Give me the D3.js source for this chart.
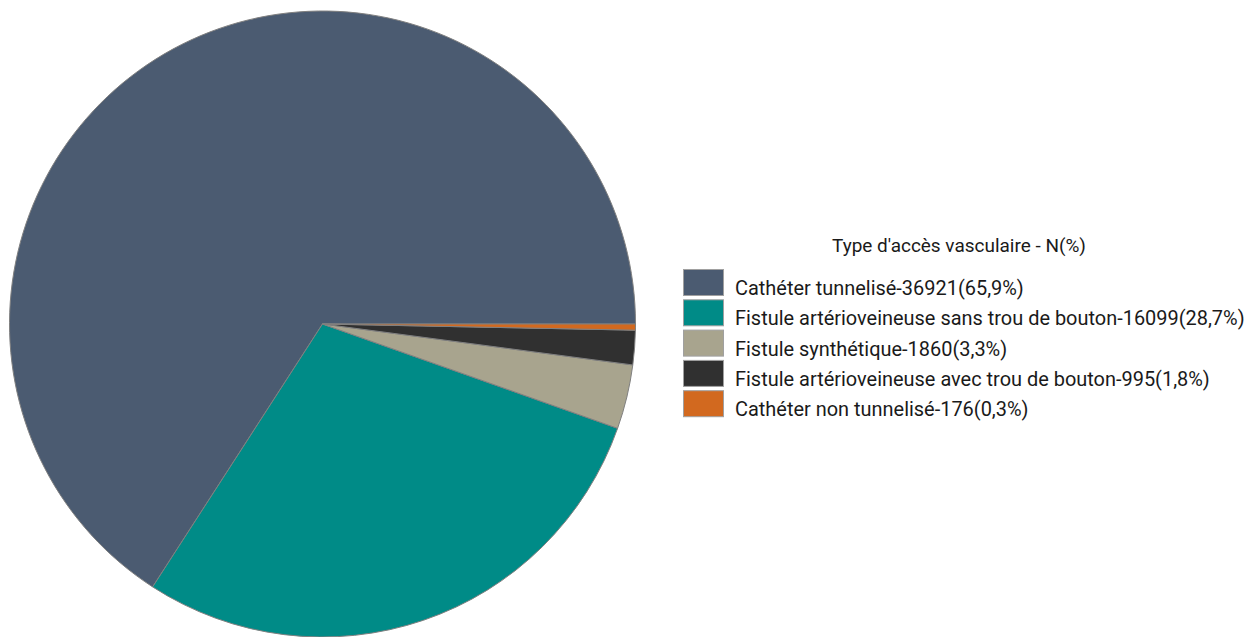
<!DOCTYPE html>
<html><head><meta charset="utf-8">
<script src="https://cdn.jsdelivr.net/npm/d3@7"></script>
<style>body{margin:0;background:#fff;} text{font-family:Roboto,"Liberation Sans",Arial,sans-serif;}</style>
</head><body>
<svg id="c" width="1252" height="637"></svg>
<script>
const categories = ["Cathéter tunnelisé","Fistule artérioveineuse sans trou de bouton","Fistule synthétique","Fistule artérioveineuse avec trou de bouton","Cathéter non tunnelisé"];
const counts = [36921,16099,1860,995,176];
const percents = ["65,9%","28,7%","3,3%","1,8%","0,3%"];
const colors = ["#4b5b71","#008b87","#a8a48e","#303030","#d2691f"];
const legendTitle = "Type d'accès vasculaire - N(%)";

const svg = d3.select("#c");
const cx = 322.5, cy = 324, r = 313;
const pie = d3.pie().sort(null).value(d=>d).startAngle(Math.PI/2).endAngle(Math.PI/2 - 2*Math.PI);
const arc = d3.arc().innerRadius(0).outerRadius(r);
const g = svg.append("g").attr("transform",`translate(${cx},${cy})`);
g.selectAll("path").data(pie(counts)).enter().append("path")
  .attr("d",arc).attr("fill",(d,i)=>colors[i])
  .attr("stroke","#808080").attr("stroke-width",1).attr("stroke-linejoin","round");

const lg = svg.append("g");
const title = lg.append("text").attr("x",959).attr("y",252).attr("text-anchor","middle")
  .attr("font-size",16).attr("fill","#1a1a1a").text(legendTitle);
// fit title width to reference (~254px)
const tw = title.node().getComputedTextLength();
title.attr("font-size", 16*254/tw);

const rowY = d3.scaleLinear().domain([0,1]).range([269,299.3]);
const labels = [];
categories.forEach((c,i)=>{
  const y = rowY(i);
  lg.append("rect").attr("x",683.5).attr("y",y+0.5).attr("width",40).attr("height",26)
    .attr("fill",colors[i]).attr("stroke","#a0a0a0").attr("stroke-width",1);
  labels.push(lg.append("text").attr("x",735).attr("y",y+26).attr("font-size",16).attr("fill","#1a1a1a")
    .text(`${c}-${counts[i]}(${percents[i]})`));
});
const w2 = labels[1].node().getComputedTextLength();
const fs = 16*510/w2;
labels.forEach(l=>l.attr("font-size",fs));
</script>
</body></html>
